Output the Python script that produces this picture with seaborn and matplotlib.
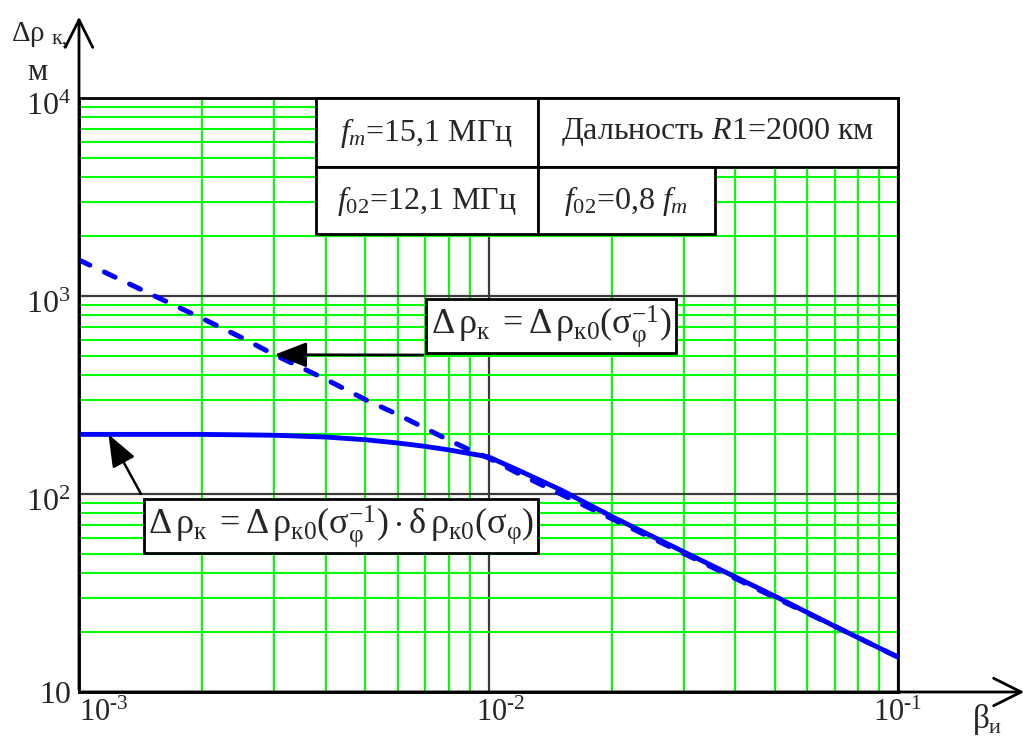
import numpy as np
import pandas as pd
import matplotlib
matplotlib.use("Agg")
import matplotlib.pyplot as plt
import matplotlib.transforms as mtransforms
import seaborn as sns
from matplotlib.patches import Rectangle, FancyArrowPatch
from matplotlib.ticker import LogLocator, NullFormatter

# ---------------- data ----------------
beta = [1e-3, 1.5e-3, 2e-3, 2.5e-3, 3e-3, 4e-3, 5e-3, 6e-3, 7e-3, 8e-3, 9e-3,
        1e-2, 1.2e-2, 1.5e-2, 2e-2, 3e-2, 5e-2, 7e-2, 1e-1]
rho_dashed = [1520, 1020, 770, 615, 505, 380, 300, 252, 215, 187, 167,
              152, 125, 100, 75, 50, 30, 21.5, 15]
rho_solid = [200, 200, 200, 199, 198, 194, 188, 181, 174, 167, 160,
             154, 130, 105, 77, 51, 30.5, 21.5, 15]

x_ticks = [1e-3, 1e-2, 1e-1]
x_ticklabels = ["$10^{\u2010 3}$", "$10^{\u2010 2}$", "$10^{\u2010 1}$"]
y_ticks = [10, 1e2, 1e3, 1e4]
y_ticklabels = ["10", r"$10^{2}$", r"$10^{3}$", r"$10^{4}$"]

label_dashed = r"$\Delta\,\rho_{\mathrm{к}}\;=\Delta\,\rho_{\mathrm{к0}}(\sigma_{\varphi}^{-1})$"
label_solid = (r"$\Delta\,\rho_{\mathrm{к}}\;=\Delta\,\rho_{\mathrm{к0}}(\sigma_{\varphi}^{-1})"
               r"\cdot\delta\,\rho_{\mathrm{к0}}(\sigma_{\varphi})$")
table_texts = [r"$\mathit{f}_{\mathit{m}}$=15,1 МГц", r"Дальность $\mathit{R}$1=2000 км",
               r"$\mathit{f}_{02}$=12,1 МГц", r"$\mathit{f}_{02}$=0,8 $\mathit{f}_{\mathit{m}}$"]

# ---------------- style ----------------
sns.set_style("white")
plt.rcParams["font.family"] = ["Liberation Serif", "DejaVu Serif"]
plt.rcParams["mathtext.fontset"] = "custom"
plt.rcParams["mathtext.rm"] = "Liberation Serif"
plt.rcParams["mathtext.it"] = "Liberation Serif:italic"
plt.rcParams["mathtext.bf"] = "Liberation Serif:bold"
plt.rcParams["mathtext.default"] = "rm"

W, H = 1030, 738
fig = plt.figure(figsize=(W / 100, H / 100), dpi=100)

def fx(px):
    return px / W

def fy(py):
    return 1 - py / H

L, R, T, B = 79, 898, 98, 692
ax = fig.add_axes([fx(L), fy(B), fx(R) - fx(L), fy(T) - fy(B)])
ax.set_xscale("log")
ax.set_yscale("log")
ax.set_xlim(1e-3, 1e-1)
ax.set_ylim(10, 1e4)

ax.xaxis.set_minor_locator(LogLocator(base=10, subs=np.arange(2, 10)))
ax.yaxis.set_minor_locator(LogLocator(base=10, subs=np.arange(2, 10)))
ax.xaxis.set_minor_formatter(NullFormatter())
ax.yaxis.set_minor_formatter(NullFormatter())
ax.grid(which="minor", color="#00ff00", lw=1.5, zorder=0)
ax.grid(which="major", color="#3a3a3a", lw=1.6, zorder=0)
ax.set_axisbelow(True)
ax.tick_params(which="both", length=0)
for s in ax.spines.values():
    s.set_color("black")
    s.set_linewidth(2)

ax.set_xticks(x_ticks)
ax.set_xticklabels(x_ticklabels, fontsize=22)
ax.set_yticks(y_ticks)
ax.set_yticklabels(y_ticklabels, fontsize=23)
ax.tick_params(axis="x", pad=5)
ax.tick_params(axis="y", pad=6)
xl = ax.get_xticklabels()
xl[0].set_ha("left")
xl[1].set_transform(xl[1].get_transform() +
                    mtransforms.ScaledTranslation(12 / 100, 0, fig.dpi_scale_trans))
for lab in ax.get_yticklabels()[1:]:
    lab.set_transform(lab.get_transform() +
                      mtransforms.ScaledTranslation(0, -6 / 100, fig.dpi_scale_trans))

df = pd.DataFrame({"beta": beta, "dashed": rho_dashed, "solid": rho_solid})
sns.lineplot(data=df, x="beta", y="dashed", ax=ax, color="#0000ff", lw=3.6, zorder=3)
ax.lines[-1].set_linestyle((0, (2.4, 3.2)))
ax.lines[-1].set_dash_capstyle("round")
sns.lineplot(data=df, x="beta", y="solid", ax=ax, color="#0000ff", lw=3.5, zorder=3)
ax.set_xlabel("")
ax.set_ylabel("")

# ---------------- extended axis arrows ----------------
fig.add_artist(FancyArrowPatch((fx(L), fy(B)), (fx(L), fy(14)), transform=fig.transFigure,
                               arrowstyle="->,head_length=0.9,head_width=0.45",
                               mutation_scale=22, lw=2, color="black"))
fig.add_artist(FancyArrowPatch((fx(L), fy(B)), (fx(1027), fy(B)), transform=fig.transFigure,
                               arrowstyle="->,head_length=0.9,head_width=0.45",
                               mutation_scale=22, lw=2, color="black"))

# axis titles
fig.text(fx(11), fy(41), r"$\Delta\rho$", fontsize=21, ha="left", va="baseline")
fig.text(fx(52), fy(44), "к,", fontsize=16, ha="left", va="baseline")
fig.text(fx(27), fy(80), "м", fontsize=23, ha="left", va="baseline")
fig.text(fx(972), fy(728), r"$\beta$", fontsize=24, ha="left", va="baseline")
fig.text(fx(989), fy(733), "и", fontsize=16, ha="left", va="baseline")

# ---------------- table ----------------
cells = [(316, 98, 538, 167), (538, 98, 898, 167), (316, 167, 538, 234), (538, 167, 715, 234)]
for (x0, y0, x1, y1), txt in zip(cells, table_texts):
    fig.add_artist(Rectangle((fx(x0), fy(y1)), fx(x1) - fx(x0), fy(y0) - fy(y1),
                             transform=fig.transFigure, facecolor="white",
                             edgecolor="black", lw=2, zorder=5))
    fig.text(fx((x0 + x1) / 2), fy((y0 + y1) / 2), txt, fontsize=23,
             ha="center", va="center", zorder=6)

# ---------------- formula boxes with arrows ----------------
box = dict(boxstyle="square,pad=0.12", facecolor="white", edgecolor="black", lw=2)
fig.text(fx(551), fy(326), label_dashed, fontsize=26, ha="center", va="center",
         bbox=box, zorder=6)
fig.text(fx(341), fy(526), label_solid, fontsize=26, ha="center", va="center",
         bbox=box, zorder=6)

ax.annotate("", xy=(beta[4], rho_dashed[4]), xycoords="data",
            xytext=(423, H - 355), textcoords="figure pixels",
            arrowprops=dict(arrowstyle="-|>,head_length=0.9,head_width=0.35",
                            mutation_scale=22, color="black", lw=2,
                            shrinkA=0, shrinkB=0), zorder=7)
ax.annotate("", xy=(1.18e-3, rho_solid[0]), xycoords="data",
            xytext=(141, H - 494), textcoords="figure pixels",
            arrowprops=dict(arrowstyle="-|>,head_length=0.9,head_width=0.35",
                            mutation_scale=22, color="black", lw=1.8,
                            shrinkA=0, shrinkB=0), zorder=7)

fig.savefig("out.png", dpi=100)
